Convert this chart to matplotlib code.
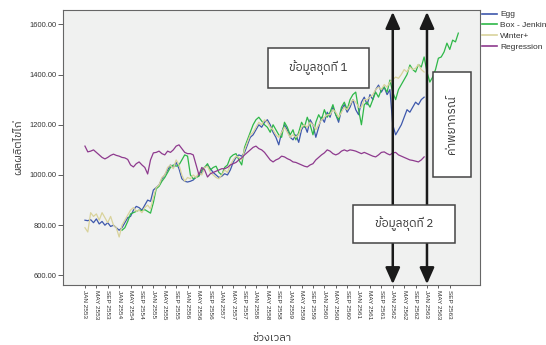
import matplotlib
matplotlib.use("Agg")
import matplotlib.pyplot as plt
from matplotlib import font_manager, ft2font
from matplotlib.patches import Rectangle, ArrowStyle
import numpy as np

# monthly series, month 0 = JAN 2553
EGG = [820, 818, 822, 810, 825, 805, 815, 800, 810, 795, 800, 790,
       780, 790, 810, 830, 835, 860, 875, 870, 860, 880, 900, 895,
       940, 950, 960, 985, 1000, 1020, 1040, 1030, 1050, 1025, 985, 975,
       972, 975, 980, 992, 1000, 1010, 1030, 1040, 1025, 1010, 1000, 990,
       995, 1005, 1000, 1020, 1050, 1070, 1080, 1075, 1090, 1120, 1150, 1160,
       1180, 1200, 1190, 1210, 1220, 1200, 1170, 1150, 1120, 1170, 1200, 1180,
       1150, 1140, 1160, 1130, 1180, 1200, 1170, 1220, 1200, 1150, 1190, 1230,
       1210, 1250, 1230, 1270, 1240, 1210, 1260, 1280, 1250, 1270, 1300, 1260,
       1240, 1290, 1310, 1280, 1320, 1300, 1340, 1358, 1330, 1350, 1320, 1340,
       1200, 1160, 1180, 1200, 1230, 1260, 1250, 1270, 1290, 1280, 1300, 1310]

# Box-Jenkins starts at month 13 and runs to month 131
BJ_START = 13
BOX_JENKINS = [780, 790, 815, 845, 850, 855, 860, 858, 862, 855, 848,
               890, 945, 955, 975, 990, 1010, 1030, 1040, 1035, 1040, 1060, 1080,
               1075, 1000, 985, 990, 995, 1020, 1030, 1045, 1020, 1030, 1035, 1010,
               1000, 1030, 1040, 1070, 1080, 1085, 1060, 1040, 1110, 1140, 1170, 1200,
               1220, 1230, 1215, 1200, 1190, 1170, 1200, 1180, 1160, 1150, 1210, 1190,
               1160, 1180, 1140, 1170, 1210, 1190, 1230, 1200, 1160, 1210, 1240, 1220,
               1260, 1230, 1250, 1280, 1240, 1220, 1270, 1290, 1260, 1300, 1320, 1330,
               1260, 1200, 1280, 1290, 1270, 1300, 1330, 1310, 1340, 1350, 1330, 1378,
               1330, 1300, 1340, 1360, 1380, 1400, 1438, 1420, 1410, 1440, 1430, 1470,
               1410, 1370, 1390, 1420, 1465, 1470, 1490, 1525, 1500, 1537, 1530, 1565]

WINTER = [790, 773, 850, 835, 845, 820, 850, 830, 810, 835, 800, 790,
          753, 800, 820, 840, 860, 870, 855, 860, 850, 870, 880, 865,
          910, 950, 960, 990, 1000, 1030, 1040, 1025, 1060, 1040, 1000, 975,
          990, 985, 1000, 990, 1010, 1000, 1030, 1035, 1010, 1000, 990, 985,
          1000, 1020, 1010, 1040, 1060, 1075, 1070, 1060, 1100, 1130, 1160, 1170,
          1190, 1210, 1200, 1220, 1210, 1190, 1180, 1160, 1150, 1170, 1190, 1170,
          1150, 1160, 1150, 1160, 1190, 1200, 1190, 1210, 1200, 1180, 1200, 1220,
          1230, 1240, 1240, 1260, 1250, 1230, 1250, 1270, 1260, 1280, 1300, 1290,
          1270, 1270, 1300, 1300, 1310, 1320, 1340, 1350, 1340, 1360, 1350, 1370,
          1380, 1390, 1385, 1400, 1420, 1410, 1430, 1420, 1425, 1440, 1420, 1410]

REGRESSION = [1115, 1092, 1095, 1100, 1090, 1080, 1070, 1064, 1070, 1078, 1083, 1078,
              1075, 1070, 1068, 1062, 1040, 1032, 1045, 1052, 1040, 1030, 1004, 1060,
              1088, 1090, 1095, 1085, 1080, 1095, 1090, 1100, 1115, 1120, 1105, 1090,
              1085, 1085, 1080, 1040, 1000, 1030, 1020, 992, 1005, 1010, 1015, 1020,
              1025, 1025, 1030, 1040, 1045, 1050, 1060, 1068, 1080, 1090, 1100, 1110,
              1115, 1105, 1100, 1090, 1075, 1060, 1052, 1060, 1065, 1075, 1072, 1065,
              1060, 1052, 1050, 1045, 1040, 1035, 1032, 1040, 1045, 1060, 1070, 1080,
              1088, 1100, 1095, 1085, 1080, 1085, 1095, 1100, 1095, 1100, 1098, 1095,
              1090, 1085, 1090, 1085, 1080, 1075, 1072, 1080, 1090, 1092, 1085, 1080,
              1088, 1090, 1080, 1075, 1070, 1065, 1060, 1058, 1055, 1052, 1060, 1072]

TICK_MONTHS = list(range(0, 129, 4))
TICK_LABELS = ["JAN 2553", "MAY 2553", "SEP 2553", "JAN 2554", "MAY 2554", "SEP 2554",
               "JAN 2555", "MAY 2555", "SEP 2555", "JAN 2556", "MAY 2556", "SEP 2556",
               "JAN 2557", "MAY 2557", "SEP 2557", "JAN 2558", "MAY 2558", "SEP 2558",
               "JAN 2559", "MAY 2559", "SEP 2559", "JAN 2560", "MAY 2560", "SEP 2560",
               "JAN 2561", "MAY 2561", "SEP 2561", "JAN 2562", "MAY 2562", "SEP 2562",
               "JAN 2563", "MAY 2563", "SEP 2563"]
Y_TICKS = [600, 800, 1000, 1200, 1400, 1600]
ARROW_MONTHS = [108, 120]


def thai_family():
    # pick any installed font that has Thai glyphs
    names = []
    for f in font_manager.fontManager.ttflist:
        try:
            if 0x0E01 in ft2font.FT2Font(f.fname).get_charmap():
                names.append(f.name)
        except Exception:
            pass
    for n in names:
        if "Thai" in n:
            return n
    return names[0] if names else "DejaVu Sans"


THAI = [thai_family(), "DejaVu Sans"]
LAT = "Liberation Sans"

fig = plt.figure(figsize=(5.46, 3.45), dpi=100)
ax = fig.add_axes([0.1154, 0.174, 0.7637, 0.797])
ax.set_facecolor("#f0f1f0")

months = np.arange(len(EGG))
bj_months = np.arange(BJ_START, BJ_START + len(BOX_JENKINS))
ax.plot(months, EGG, color="#3e58ac", lw=0.9, label="Egg", zorder=3)
ax.plot(bj_months, BOX_JENKINS, color="#2eb848", lw=0.9, label="Box - Jenkins", zorder=3)
ax.plot(months, WINTER, color="#d9d39c", lw=0.9, label="Winter+", zorder=3)
ax.plot(months, REGRESSION, color="#8e3a8e", lw=0.9, label="Regression", zorder=3)

ax.set_xlim(-7.7, 138.6)
ax.set_ylim(562, 1657)
ax.set_xticks(TICK_MONTHS)
ax.set_xticklabels(TICK_LABELS, rotation=-90, fontsize=4.6, family=LAT, color="#333333")
ax.set_yticks(Y_TICKS)
ax.set_yticklabels([f"{v:.2f}" for v in Y_TICKS], fontsize=5.4, family=LAT, color="#333333")
ax.tick_params(axis="x", length=2.5, width=0.6, pad=1, color="#444444")
ax.tick_params(axis="y", length=3.5, width=0.6, pad=1.5, color="#444444")
for s in ax.spines.values():
    s.set_color("#666666")
    s.set_linewidth(0.8)

ax.set_ylabel("ผลผลิตไข่ไก่", family=THAI, fontsize=8, color="#333333", labelpad=4)
ax.set_xlabel("ช่วงเวลา", family=THAI, fontsize=8, color="#333333", labelpad=10)

# double headed arrows splitting the two data sets
astyle = ArrowStyle("<|-|>", head_length=0.9, head_width=0.4)
for m in ARROW_MONTHS:
    ax.annotate("", xy=(m, 0.993), xytext=(m, 0.003),
                xycoords=("data", "axes fraction"), textcoords=("data", "axes fraction"),
                arrowprops=dict(arrowstyle=astyle, mutation_scale=11, lw=1.8,
                                color="#1a1a1a", shrinkA=0, shrinkB=0),
                zorder=5, annotation_clip=False)

# boxes, in axes fraction
boxes = [
    ((0.4916, 0.716), 0.242, 0.146, "ข้อมูลชุดที่ 1", 0),
    ((0.695, 0.153), 0.245, 0.138, "ข้อมูลชุดที่ 2", 0),
    ((0.887, 0.393), 0.0911, 0.382, "ค่าพยากรณ์", 90),
]
for (x0, y0), w, h, txt, rot in boxes:
    ax.add_patch(Rectangle((x0, y0), w, h, transform=ax.transAxes, facecolor="white",
                           edgecolor="#444444", lw=1.1, zorder=6, clip_on=False))
    ax.text(x0 + w / 2, y0 + h / 2, txt, transform=ax.transAxes, ha="center", va="center",
            rotation=rot, family=THAI, fontsize=8.5, color="#333333", zorder=7)

leg = ax.legend(loc="upper left", bbox_to_anchor=(0.998, 1.01), frameon=False,
                prop={"family": LAT, "size": 6}, handlelength=1.8, handletextpad=0.3,
                labelspacing=0.35, borderaxespad=0.2, borderpad=0.2)
for line in leg.get_lines():
    line.set_linewidth(1.2)
for t in leg.get_texts():
    t.set_color("#333333")

fig.savefig("out.png", dpi=100)
